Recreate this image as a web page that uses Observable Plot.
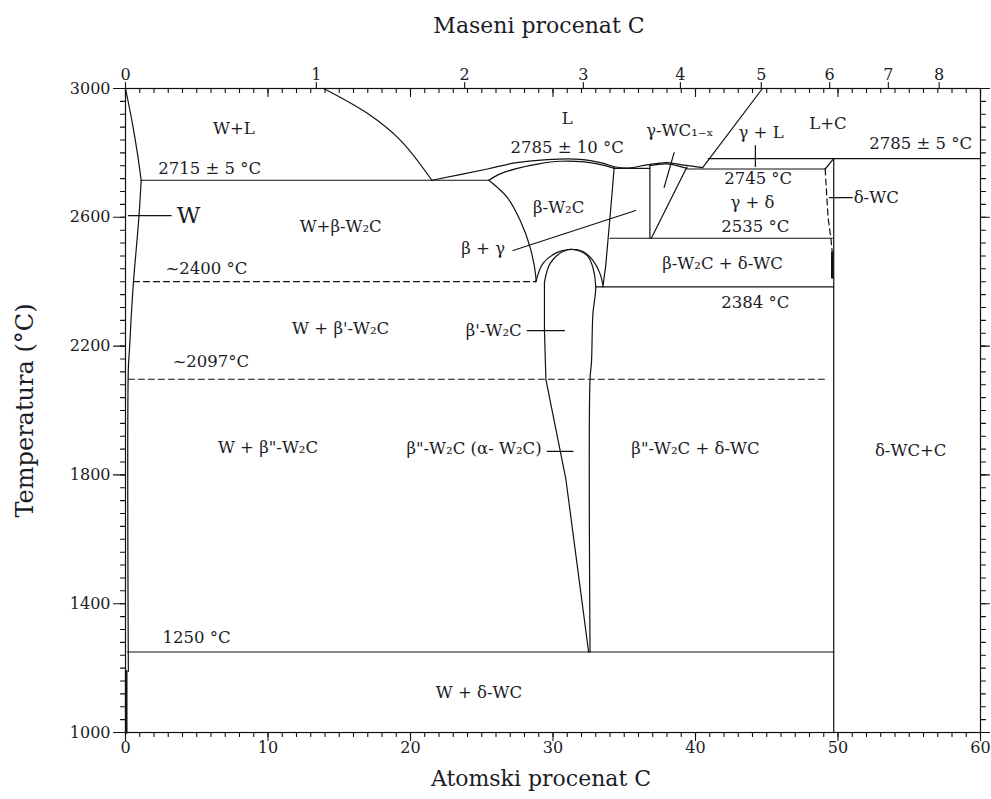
<!DOCTYPE html>
<html>
<head>
<meta charset="utf-8">
<script src="https://cdn.jsdelivr.net/npm/d3@7"></script>
<script src="https://cdn.jsdelivr.net/npm/@observablehq/plot@0.6"></script>
<style>
  html, body { margin: 0; padding: 0; background: #fff; }
  #chart svg { display: block; }
</style>
</head>
<body>
<div id="chart"></div>
<script>
// ---------- axis domains and ticks ----------
const xDomain = [0, 60];
const yDomain = [1000, 3000];
const atomMajor = [0, 10, 20, 30, 40, 50, 60];
const atomMinor = d3.range(0, 61, 1);
const tempMajor = [1000, 1400, 1800, 2200, 2600, 3000];
const tempMinor = d3.range(1000, 3001, 40);
const massTicks = [0, 1, 2, 3, 4, 5, 6, 7, 8];

// ---------- phase boundaries: [atomic % C, temperature °C] ----------
const wSolidus   = [[0, 3000], [0.47, 2895], [0.82, 2803], [1.1, 2715]];
const wSolvus    = [[1.1, 2715], [0.94, 2600], [0.56, 2400], [0.4, 2290], [0.28, 2190], [0.2, 2130], [0.2, 1190]];
const wSolvusLow = [[0.05, 1190], [0.05, 1000]];
const liqW       = [[13.9, 3000], [17.0, 2922], [19.3, 2839], [21.5, 2715]];
const eut2715    = [[1.1, 2715], [25.5, 2715]];
const liqMid     = [[21.5, 2715], [25.4, 2750], [27.2, 2768], [29.6, 2779], [31.9, 2780], [33.5, 2768], [34.3, 2757], [35.3, 2753], [36.6, 2763], [38.0, 2770], [39.2, 2762], [40.5, 2754]];
const solBeta    = [[25.5, 2715], [26.3, 2735], [27.5, 2752], [29.0, 2766], [30.5, 2774], [32.0, 2773], [33.5, 2762], [34.3, 2752]];
const eutBG      = [[34.3, 2752], [36.8, 2752]];
const solGamma   = [[36.8, 2760], [38.0, 2766], [39.4, 2752]];
const betaLeft   = [[25.5, 2715], [26.8, 2661], [27.7, 2590], [28.4, 2506], [28.8, 2413], [28.8, 2400]];
const betaRight  = [[34.3, 2757], [34.0, 2600], [33.7, 2450], [33.5, 2384]];
const outerArc   = [[28.8, 2400], [29.3, 2457], [30.3, 2491], [31.1, 2500], [32.1, 2494], [32.8, 2466], [33.3, 2425], [33.5, 2390]];
const innerRight = [[29.4, 2398], [29.8, 2457], [30.7, 2494], [31.4, 2500], [32.4, 2481], [32.8, 2444], [33.0, 2384], [32.8, 2300], [32.7, 2150], [32.6, 2100], [32.6, 1250]];
const innerLeft  = [[29.4, 2398], [29.4, 2250], [29.5, 2097], [30.9, 1788], [32.5, 1250]];
const gammaLeft  = [[36.8, 2764], [36.8, 2535]];
const gammaRight = [[39.4, 2756], [36.9, 2535]];
const line2745   = [[39.4, 2750], [49.1, 2750]];
const deltaCorner= [[49.1, 2750], [49.7, 2782]];
const line2785   = [[40.9, 2782], [60, 2782]];
const liqC       = [[40.5, 2754], [44.7, 3000]];
const deltaRight = [[49.7, 2782], [49.7, 1000]];
const deltaLeft  = [[49.1, 2750], [49.3, 2600], [49.5, 2535], [49.6, 2490]];
const deltaThick = [[49.6, 2490], [49.6, 2413]];
const line2535   = [[34.0, 2535], [49.6, 2535]];
const line2384   = [[33.0, 2384], [49.7, 2384]];
const line1250   = [[0.15, 1250], [49.7, 1250]];
const dash2400   = [[0.56, 2400], [28.8, 2400]];
const dash2097   = [[0.2, 2097], [49.3, 2097]];

// ---------- label leader lines ----------
const ptrW      = [[0.2, 2605], [3.2, 2605]];
const ptrBG     = [[27.2, 2497], [35.8, 2621]];
const ptrBeta1  = [[28.2, 2248], [30.8, 2248]];
const ptrBeta2  = [[29.6, 1873], [31.4, 1873]];
const ptrGammaW = [[38.5, 2801], [37.8, 2693]];
const ptrGL     = [[44.2, 2823], [44.2, 2758]];
const ptrDelta  = [[49.4, 2661], [51.0, 2661]];

// ---------- region / temperature labels ----------
const labelsMid = [
  ["W+L", 7.6, 2876], ["W+β-W₂C", 15.1, 2571], ["W + β'-W₂C", 15.1, 2255],
  ["W + β\"-W₂C", 10.0, 1885], ["W + δ-WC", 24.8, 1124], ["L", 31.0, 2907],
  ["2785 ± 10 °C", 31.0, 2817], ["β-W₂C", 30.4, 2630], ["β + γ", 25.1, 2503],
  ["γ-WC₁₋ₓ", 38.9, 2870], ["γ + L", 44.6, 2863], ["L+C", 49.3, 2891],
  ["2785 ± 5 °C", 55.8, 2829], ["2745 °C", 44.4, 2720], ["γ + δ", 44.0, 2646],
  ["2535 °C", 44.2, 2571], ["β-W₂C + δ-WC", 41.9, 2457], ["2384 °C", 44.2, 2335],
  ["β\"-W₂C + δ-WC", 40.0, 1882], ["δ-WC+C", 55.1, 1876]
];
const labelsStart = [
  ["2715 ± 5 °C", 2.3, 2752], ["~2400 °C", 2.8, 2441], ["~2097°C", 3.3, 2152],
  ["1250 °C", 2.6, 1295], ["δ-WC", 51.1, 2661]
];
const labelsEnd = [
  ["β'-W₂C", 27.8, 2248], ["β\"-W₂C (α- W₂C)", 29.2, 1882]
];
const labelW = [["W", 3.6, 2605]];

// mass % C -> atomic % C (W = 183.84, C = 12.011)
const toAtomic = w => 100 * (w / 12.011) / (w / 12.011 + (100 - w) / 183.84);
const massAt = massTicks.map(toAtomic);
const massLabel = new Map(massAt.map((a, i) => [a, String(massTicks[i])]));

const solid = [wSolidus, wSolvus, liqW, eut2715, liqMid, solBeta, eutBG, solGamma,
  betaLeft, betaRight, outerArc, innerRight, innerLeft, gammaLeft, gammaRight,
  line2745, deltaCorner, line2785, liqC, deltaRight, line2535, line2384, line1250,
  ptrW, ptrBG, ptrBeta1, ptrBeta2, ptrGammaW, ptrGL, ptrDelta];
const curved = new Set([wSolidus, wSolvus, liqW, liqMid, solBeta, solGamma, betaLeft, outerArc, innerRight]);
const dashed = [dash2400, dash2097, deltaLeft];
const thick = [wSolvusLow, deltaThick];

const ink = "#111111";
const textInk = "#1c1c28";
const lw = 1.2;
const lineMarks = [
  ...solid.map(d => Plot.line(d, {x: "0", y: "1", stroke: ink, strokeWidth: lw, curve: curved.has(d) ? "catmull-rom" : "linear"})),
  ...dashed.map(d => Plot.line(d, {x: "0", y: "1", stroke: ink, strokeWidth: lw, strokeDasharray: "6,4"})),
  ...thick.map(d => Plot.line(d, {x: "0", y: "1", stroke: ink, strokeWidth: 2.6}))
];

// tick marks: plain straight vectors anchored on the frame
const tickShape = {draw(context, l) { context.moveTo(0, 0); context.lineTo(0, -l); }};
const tickTop = (data, rotate, length) => Plot.vector(data, {
  x: d => d, y: yDomain[1], rotate, length, anchor: "start", shape: tickShape, stroke: ink, strokeWidth: 1.1
});
const tickBottom = (data, length) => Plot.vector(data, {
  x: d => d, y: yDomain[0], rotate: 180, length, anchor: "start", shape: tickShape, stroke: ink, strokeWidth: 1.1
});
const tickSide = (data, side, length) => Plot.vector(data, {
  x: side === "left" ? xDomain[0] : xDomain[1], y: d => d, rotate: side === "left" ? 270 : 90,
  length, anchor: "start", shape: tickShape, stroke: ink, strokeWidth: 1.1
});

const fs = 16.5;   // region labels
const tfs = 16;    // tick labels
const hfs = 22;    // axis titles
const chart = Plot.plot({
  width: 991,
  height: 799,
  marginLeft: 125,
  marginRight: 11,
  marginTop: 88,
  marginBottom: 67,
  x: {domain: xDomain},
  y: {domain: yDomain},
  style: {fontFamily: "'DejaVu Serif', serif", background: "#fff", color: textInk},
  marks: [
    Plot.frame({stroke: ink, strokeWidth: lw}),
    // ticks
    tickBottom(atomMinor, 4), tickBottom(atomMajor, 8),
    tickTop(atomMinor, 180, 4), tickTop(atomMajor, 180, 8), tickTop(massAt, 0, 6),
    tickSide(tempMinor, "left", 5), tickSide(tempMajor, "left", 12),
    tickSide(tempMinor, "right", 5), tickSide(tempMajor, "right", 9),
    // tick labels
    Plot.axisX(atomMajor, {anchor: "bottom", tickSize: 0, tickPadding: 9, fontSize: tfs, label: null, tickFormat: d => String(d), fill: textInk}),
    Plot.axisX(massAt, {anchor: "top", tickSize: 0, tickPadding: 9, fontSize: tfs, label: null, tickFormat: d => massLabel.get(d), fill: textInk}),
    Plot.axisY(tempMajor, {anchor: "left", tickSize: 0, tickPadding: 15, fontSize: tfs, label: null, tickFormat: d => String(d), fill: textInk}),
    // axis titles
    Plot.text(["Maseni procenat C"], {frameAnchor: "top", dx: -14, dy: -63, fontSize: hfs, lineAnchor: "middle", textAnchor: "middle", fill: textInk}),
    Plot.text(["Atomski procenat C"], {frameAnchor: "bottom", dx: -12, dy: 46, fontSize: hfs, lineAnchor: "middle", textAnchor: "middle", fill: textInk}),
    Plot.text(["Temperatura (°C)"], {frameAnchor: "left", dx: -100, rotate: -90, fontSize: 24, lineAnchor: "middle", textAnchor: "middle", fill: textInk}),
    ...lineMarks,
    Plot.text(labelsMid, {x: "1", y: "2", text: "0", fontSize: fs, fill: textInk, textAnchor: "middle"}),
    Plot.text(labelsStart, {x: "1", y: "2", text: "0", fontSize: fs, fill: textInk, textAnchor: "start"}),
    Plot.text(labelsEnd, {x: "1", y: "2", text: "0", fontSize: fs, fill: textInk, textAnchor: "end"}),
    Plot.text(labelW, {x: "1", y: "2", text: "0", fontSize: 23, fill: textInk, textAnchor: "start"})
  ]
});
document.getElementById("chart").append(chart);
</script>
</body>
</html>
